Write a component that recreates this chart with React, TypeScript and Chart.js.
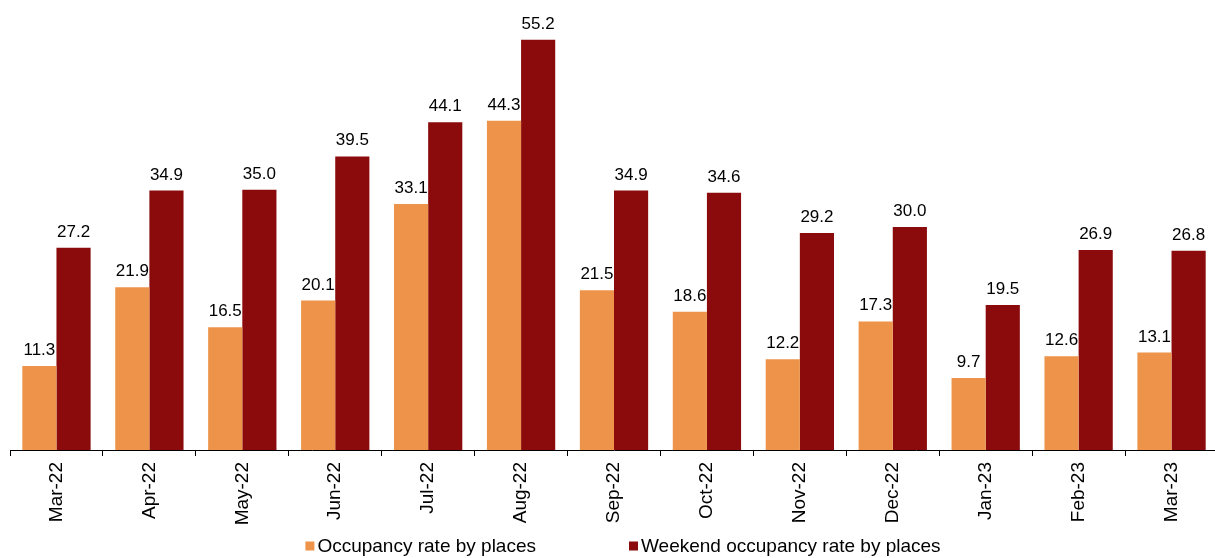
import React, { useEffect, useRef } from "react";
import { Chart, registerables } from "chart.js";

Chart.register(...registerables);

const categories = ["Mar-22", "Apr-22", "May-22", "Jun-22", "Jul-22", "Aug-22", "Sep-22", "Oct-22", "Nov-22", "Dec-22", "Jan-23", "Feb-23", "Mar-23"];
const occupancy = [11.3, 21.9, 16.5, 20.1, 33.1, 44.3, 21.5, 18.6, 12.2, 17.3, 9.7, 12.6, 13.1];
const weekend = [27.2, 34.9, 35.0, 39.5, 44.1, 55.2, 34.9, 34.6, 29.2, 30.0, 19.5, 26.9, 26.8];
const seriesNames = ["Occupancy rate by places", "Weekend occupancy rate by places"];

const ORANGE = "#ED944A";
const RED = "#8B0A0B";
const FONT = "'Liberation Sans', Arial, sans-serif";

const labelPlugin = {
  id: "barLabels",
  afterDatasetsDraw(chart: any) {
    const ctx = chart.ctx;
    ctx.save();
    ctx.font = `17px ${FONT}`;
    ctx.fillStyle = "#000";
    ctx.textAlign = "center";
    ctx.textBaseline = "alphabetic";
    chart.data.datasets.forEach((ds: any, i: number) => {
      const meta = chart.getDatasetMeta(i);
      meta.data.forEach((el: any, j: number) => {
        ctx.fillText(Number(ds.data[j]).toFixed(1), el.x, el.y - 11);
      });
    });
    ctx.restore();
  },
};

const legendPlugin = {
  id: "customLegend",
  afterDraw(chart: any) {
    const ctx = chart.ctx;
    ctx.save();
    ctx.font = `19px ${FONT}`;
    ctx.textBaseline = "middle";
    ctx.textAlign = "left";
    const box = 9;
    const gapBox = 3;
    const gapItem = 93;
    const ds = chart.data.datasets;
    const widths = ds.map((d: any) => ctx.measureText(d.label).width);
    const total = widths.reduce((a: number, w: number) => a + box + gapBox + w, 0) + gapItem * (ds.length - 1);
    let x = 623 - total / 2;
    const y = 546;
    ds.forEach((d: any, i: number) => {
      ctx.fillStyle = d.backgroundColor;
      ctx.fillRect(x, y - box / 2, box, box);
      x += box + gapBox;
      ctx.fillStyle = "#000";
      ctx.fillText(d.label, x, y + 1);
      x += widths[i] + gapItem;
    });
    ctx.restore();
  },
};

export default function App() {
  const ref = useRef<HTMLCanvasElement>(null);
  useEffect(() => {
    if (!ref.current) return;
    const chart = new Chart(ref.current, {
      type: "bar",
      data: {
        labels: categories,
        datasets: [
          { label: seriesNames[0], data: occupancy, backgroundColor: ORANGE, categoryPercentage: 0.735, barPercentage: 1 },
          { label: seriesNames[1], data: weekend, backgroundColor: RED, categoryPercentage: 0.735, barPercentage: 1 },
        ],
      },
      options: {
        responsive: false,
        animation: false,
        layout: { padding: { left: 10, right: 0, top: 4, bottom: 0 } },
        plugins: { legend: { display: false }, tooltip: { enabled: false } },
        scales: {
          y: { display: false, min: 0, max: 60 },
          x: {
            offset: true,
            grid: { display: true, offset: true, drawOnChartArea: false, drawTicks: true, tickLength: 6, color: "#000", lineWidth: 1 },
            border: { display: true, color: "#000", width: 1 },
            ticks: {
              color: "#000",
              font: { size: 19, family: FONT },
              maxRotation: 90,
              minRotation: 90,
              padding: 6,
              autoSkip: false,
            },
            afterFit: (scale: any) => {
              scale.height = 108;
            },
          },
        },
      },
      plugins: [labelPlugin, legendPlugin],
    });
    return () => chart.destroy();
  }, []);
  return (
    <div style={{ position: "absolute", left: 0, top: 0, width: 1215, height: 558, overflow: "hidden", background: "#fff" }}>
      <canvas ref={ref} width={1218} height={558} style={{ display: "block" }} />
    </div>
  );
}
